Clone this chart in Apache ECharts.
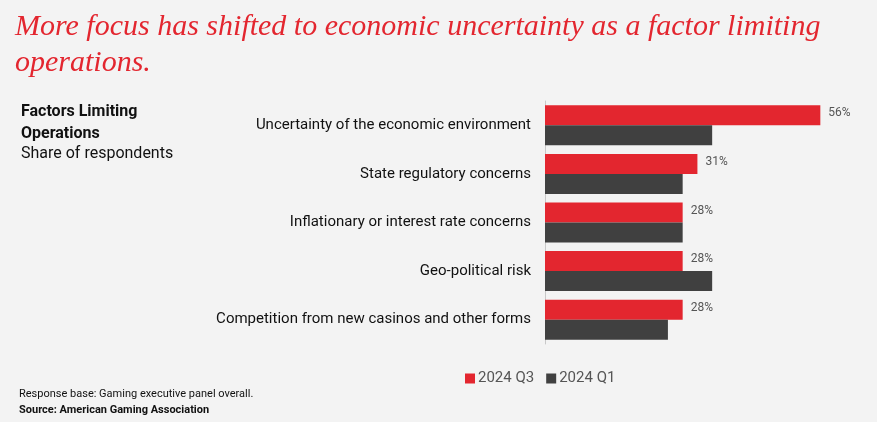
<!DOCTYPE html>
<html>
<head>
<meta charset="utf-8">
<script src="https://cdn.jsdelivr.net/npm/echarts@6/dist/echarts.min.js"></script>
<style>
  html, body { margin: 0; padding: 0; background: #f3f3f3; }
  #chart { width: 877px; height: 422px; }
</style>
</head>
<body>
<div id="chart"></div>
<script>
// Categories top-to-bottom
const categories = [
    'Uncertainty of the economic environment',
    'State regulatory concerns',
    'Inflationary or interest rate concerns',
    'Geo-political risk',
    'Competition from new casinos and other forms'
];
const q3Values = [56, 31, 28, 28, 28];
const q1Values = [34, 28, 28, 34, 25];

const chart = echarts.init(document.getElementById('chart'));

const option = {
    backgroundColor: '#f3f3f3',
    textStyle: { fontFamily: 'Roboto, Arial, sans-serif' },
    title: [
        {
            text: 'More focus has shifted to economic uncertainty as a factor limiting\noperations.',
            left: 10, top: 4,
            textStyle: { fontFamily: 'Liberation Serif', fontStyle: 'italic', fontWeight: 'normal', fontSize: 30, lineHeight: 36, color: '#e3262f' }
        },
        {
            text: 'Factors Limiting\nOperations',
            left: 16, top: 96,
            textStyle: { fontSize: 16, fontWeight: 'bold', lineHeight: 22, color: '#111' }
        },
        {
            text: 'Share of respondents',
            left: 16, top: 141,
            textStyle: { fontSize: 16, fontWeight: 'normal', color: '#111' }
        },
        {
            text: 'Response base: Gaming executive panel overall.',
            left: 14, top: 384,
            textStyle: { fontSize: 11, fontWeight: 'normal', color: '#111' }
        },
        {
            text: 'Source: American Gaming Association',
            left: 14, top: 400,
            textStyle: { fontSize: 11, fontWeight: 'bold', color: '#111' }
        }
    ],
    legend: {
        left: 460, top: 366,
        itemWidth: 10, itemHeight: 10, itemGap: 12,
        icon: 'rect',
        textStyle: { fontSize: 15, color: '#555', padding: [0, 0, 0, -2] },
        data: ['2024 Q3', '2024 Q1']
    },
    grid: { left: 545, right: 37, top: 101, bottom: 78 },
    xAxis: {
        type: 'value', min: 0, max: 60,
        show: false
    },
    yAxis: {
        type: 'category',
        inverse: true,
        data: categories,
        axisLine: { show: true, lineStyle: { color: '#c8c8c8', width: 1 } },
        axisTick: { show: false },
        axisLabel: { fontSize: 15, color: '#111', margin: 14 }
    },
    series: [
        {
            name: '2024 Q3',
            type: 'bar',
            data: q3Values,
            barWidth: 20,
            barGap: '0%',
            itemStyle: { color: '#e3262f' },
            label: { show: true, position: 'right', distance: 8, fontSize: 12, color: '#555', formatter: '{c}%', offset: [0, -2] }
        },
        {
            name: '2024 Q1',
            type: 'bar',
            data: q1Values,
            barWidth: 20,
            itemStyle: { color: '#404040' }
        }
    ]
};

chart.setOption(option);
</script>
</body>
</html>
